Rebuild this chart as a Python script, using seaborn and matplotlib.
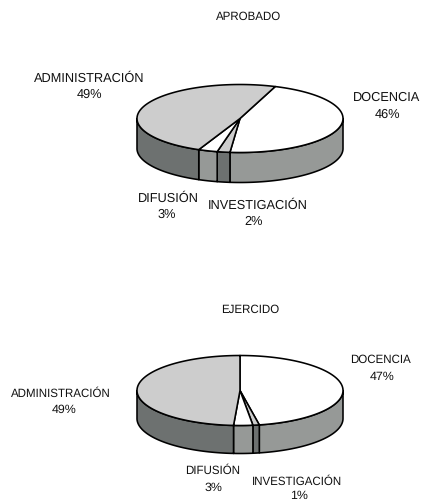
import numpy as np
import matplotlib
matplotlib.use("Agg")
import matplotlib.pyplot as plt
from matplotlib.patches import Polygon
import seaborn as sns

sns.set_theme(style="white")
plt.rcParams['font.family'] = ['Liberation Sans', 'DejaVu Sans']
plt.rcParams['text.hinting'] = 'no_hinting'

# Budget shares, clockwise from the first slice
categories = ["DOCENCIA", "INVESTIGACIÓN", "DIFUSIÓN", "ADMINISTRACIÓN"]
aprobado = [46, 2, 3, 49]
ejercido = [47, 1, 3, 49]

TOP_COLORS = ["#ffffff", "#cdcdcd", "#ffffff", "#cdcdcd"]
SIDE_COLORS = ["#969997", "#6d7170", "#969997", "#6d7170"]
INK = "#111111"


def ellipse_points(cx, cy, rx, ry, a0, a1):
    """Points along the rim; angles in degrees, clockwise from 12 o'clock."""
    t = np.radians(np.linspace(a0, a1, max(int(abs(a1 - a0)) * 2, 2)))
    return np.column_stack([cx + rx * np.sin(t), cy - ry * np.cos(t)])


def draw_pie3d(ax, values, cx, cy, rx, ry, depth, start):
    shares = np.asarray(values, dtype=float)
    edges = start + 360 * np.concatenate([[0], np.cumsum(shares) / shares.sum()])

    # Wall of the disc: only the front half (90 to 270 degrees) is visible
    for k, (a0, a1) in enumerate(zip(edges[:-1], edges[1:])):
        for shift in (0, 360):
            lo, hi = max(a0, 90 + shift), min(a1, 270 + shift)
            if lo >= hi:
                continue
            rim = ellipse_points(cx, cy, rx, ry, lo, hi)
            wall = np.vstack([rim, rim[::-1] + [0, depth]])
            ax.add_patch(Polygon(wall, closed=True, facecolor=SIDE_COLORS[k],
                                 edgecolor="black", linewidth=1.15, joinstyle="round"))

    # Top face wedges
    for k, (a0, a1) in enumerate(zip(edges[:-1], edges[1:])):
        rim = ellipse_points(cx, cy, rx, ry, a0, a1)
        wedge = np.vstack([[cx, cy], rim])
        ax.add_patch(Polygon(wedge, closed=True, facecolor=TOP_COLORS[k],
                             edgecolor="black", linewidth=1.15, joinstyle="round"))


def caption(ax, x, y, text, size):
    # y is the vertical middle of the capitals, in pixels from the top
    ax.text(x, y + 0.36 * size * 100 / 72, text, ha="center", va="baseline",
            fontsize=size, color=INK)


fig = plt.figure(figsize=(4.23, 5.02), dpi=100, facecolor="white")
ax = fig.add_axes([0, 0, 1, 1])
ax.set_xlim(0, 423)
ax.set_ylim(502, 0)
ax.axis("off")

draw_pie3d(ax, aprobado, 240, 119.5, 103, 34, 30, 20)
draw_pie3d(ax, ejercido, 240, 391.5, 103, 35, 28, 0)

caption(ax, 248.5, 16, "APROBADO", 8.3)
caption(ax, 250.5, 309, "EJERCIDO", 8.3)

# Upper pie labels
UPPER = 9.2
caption(ax, 387, 96, categories[0], UPPER)
caption(ax, 387, 113, f"{aprobado[0]}%", UPPER)
caption(ax, 257.5, 204, categories[1], UPPER)
caption(ax, 254, 220, f"{aprobado[1]}%", UPPER)
caption(ax, 168, 197, categories[2], UPPER)
caption(ax, 167, 213, f"{aprobado[2]}%", UPPER)
caption(ax, 89.5, 77, categories[3], UPPER)
caption(ax, 89, 93, f"{aprobado[3]}%", UPPER)

# Lower pie labels
LOWER = 8.3
LOWER_PCT = 8.9
caption(ax, 380, 359, categories[0], LOWER)
caption(ax, 382, 375, f"{ejercido[0]}%", LOWER_PCT)
caption(ax, 297, 481, categories[1], LOWER)
caption(ax, 299, 494.5, f"{ejercido[1]}%", LOWER_PCT)
caption(ax, 213, 470, categories[2], LOWER)
caption(ax, 213, 486, f"{ejercido[2]}%", LOWER_PCT)
caption(ax, 61, 393, categories[3], LOWER)
caption(ax, 64, 408, f"{ejercido[3]}%", LOWER_PCT)

fig.savefig("out.png", dpi=100, facecolor="white")
